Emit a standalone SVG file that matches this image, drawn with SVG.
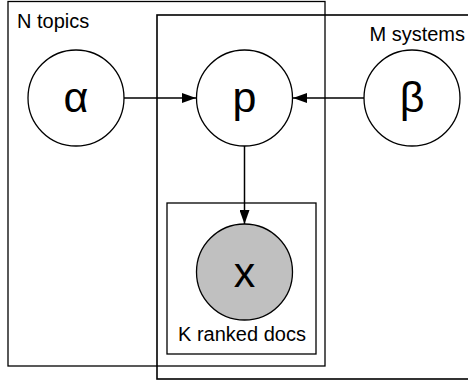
<svg xmlns="http://www.w3.org/2000/svg" width="468" height="382" viewBox="0 0 468 382">
<style>
.plate{fill:none;stroke:#000;stroke-width:1.3}
.node{fill:#fff;stroke:#000;stroke-width:1.3}
.obs{fill:#c0c0c0;stroke:#000;stroke-width:1.3}
.lbl{font-family:"Liberation Sans",Arial,sans-serif;font-size:20px;fill:#000}
.sym{font-family:"Liberation Sans",Arial,sans-serif;font-size:43px;fill:#000;text-anchor:middle}
.edge{stroke:#000;stroke-width:1.5;fill:none}
</style>
<defs>
<marker id="arr" viewBox="0 0 14 10" refX="14" refY="5" markerWidth="14" markerHeight="10" markerUnits="userSpaceOnUse" orient="auto">
<path d="M0,0 L14,5 L0,10 Z" fill="#000"/>
</marker>
</defs>
<g id="plate-topics">
<rect class="plate" x="8" y="1.5" width="317" height="364.5"/>
<text class="lbl" x="17" y="28">N topics</text>
</g>
<g id="plate-systems">
<rect class="plate" x="157" y="15" width="320" height="364" style="stroke-width:1.6"/>
<text class="lbl" x="465" y="41" text-anchor="end">M systems</text>
</g>
<g id="plate-docs">
<rect class="plate" x="167" y="203" width="149" height="151"/>
<text class="lbl" x="242" y="341" text-anchor="middle">K ranked docs</text>
</g>
<g id="node-alpha">
<circle class="node" cx="76" cy="98" r="48"/>
<text class="sym" x="76" y="112">α</text>
</g>
<g id="node-p">
<circle class="node" cx="244.5" cy="98" r="48"/>
<text class="sym" x="244.5" y="112">p</text>
</g>
<g id="node-beta">
<circle class="node" cx="412" cy="98" r="48"/>
<text class="sym" x="412" y="112">β</text>
</g>
<g id="node-x">
<circle class="obs" cx="244.5" cy="272" r="48"/>
<text class="sym" x="244.5" y="287">x</text>
</g>
<g id="connectors">
<line class="edge" x1="124" y1="98" x2="196" y2="98" marker-end="url(#arr)"/>
<line class="edge" x1="364" y1="98" x2="293" y2="98" marker-end="url(#arr)"/>
<line class="edge" x1="244.5" y1="146" x2="244.5" y2="224" marker-end="url(#arr)"/>
</g>
</svg>
